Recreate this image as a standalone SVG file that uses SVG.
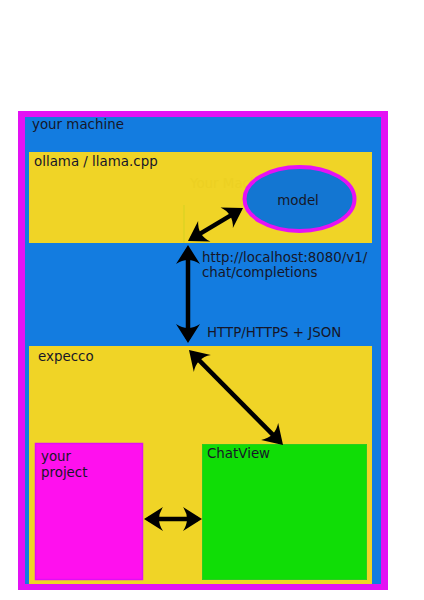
<svg xmlns="http://www.w3.org/2000/svg" width="424" height="600" viewBox="0 0 424 600">
<style>
text{font-family:"DejaVu Sans","Liberation Sans",sans-serif;font-size:13.4px;fill:#161628}
.conn{stroke:#000;stroke-width:4.5;fill:none;marker-start:url(#ah);marker-end:url(#ah)}
</style>
<defs>
<marker id="ah" viewBox="-16 -13 22 26" refX="0" refY="0" markerWidth="22" markerHeight="26" markerUnits="userSpaceOnUse" orient="auto-start-reverse" overflow="visible">
<path d="M4,0 L-15,-12 Q-7,0 -15,12 Z" fill="#000"/>
</marker>
</defs>
<rect width="424" height="600" fill="#fff"/>
<g id="machine">
<rect x="18" y="111" width="370" height="479" fill="#e312f4"/>
<rect x="25" y="117" width="356" height="467" fill="#137ce0"/>
<text x="32" y="129">your machine</text>
</g>
<g id="ollama">
<rect x="29" y="152" width="343" height="91" fill="#f0d426"/>
<text x="34" y="166">ollama / llama.cpp</text>
<text x="190" y="188" style="fill:#ecd022">Your Machine</text>
<line x1="184" y1="205" x2="184" y2="243" stroke="#c4d020" stroke-width="0.6"/>
</g>
<g id="model">
<ellipse cx="299.5" cy="199" rx="55" ry="32" fill="#1376d2" stroke="#e612f4" stroke-width="4"/>
<text x="298" y="205" text-anchor="middle">model</text>
</g>
<g id="expecco">
<rect x="29" y="346" width="343" height="238" fill="#f0d426"/>
<text x="38" y="361">expecco</text>
</g>
<g id="project">
<rect x="35.5" y="443.5" width="107" height="136" fill="#ff10ee" stroke="#e010f2" stroke-width="1.5"/>
<text x="41" y="461">your</text>
<text x="41" y="477">project</text>
</g>
<g id="chatview">
<rect x="202.5" y="444.5" width="164" height="135" fill="#10dd06" stroke="#2ccc20" stroke-width="1"/>
<text x="207" y="458">ChatView</text>
</g>
<g id="labels">
<text x="202" y="262">http://localhost:8080/v1/</text>
<text x="202" y="277">chat/completions</text>
<text x="207" y="337">HTTP/HTTPS + JSON</text>
</g>
<g id="connectors">
<line class="conn" x1="191.4" y1="238.9" x2="239.6" y2="210.1"/>
<line class="conn" x1="188" y1="249" x2="188" y2="339"/>
<line class="conn" x1="191.8" y1="352.8" x2="280.2" y2="442.2"/>
<line class="conn" x1="148" y1="519" x2="198" y2="519"/>
</g>
</svg>
